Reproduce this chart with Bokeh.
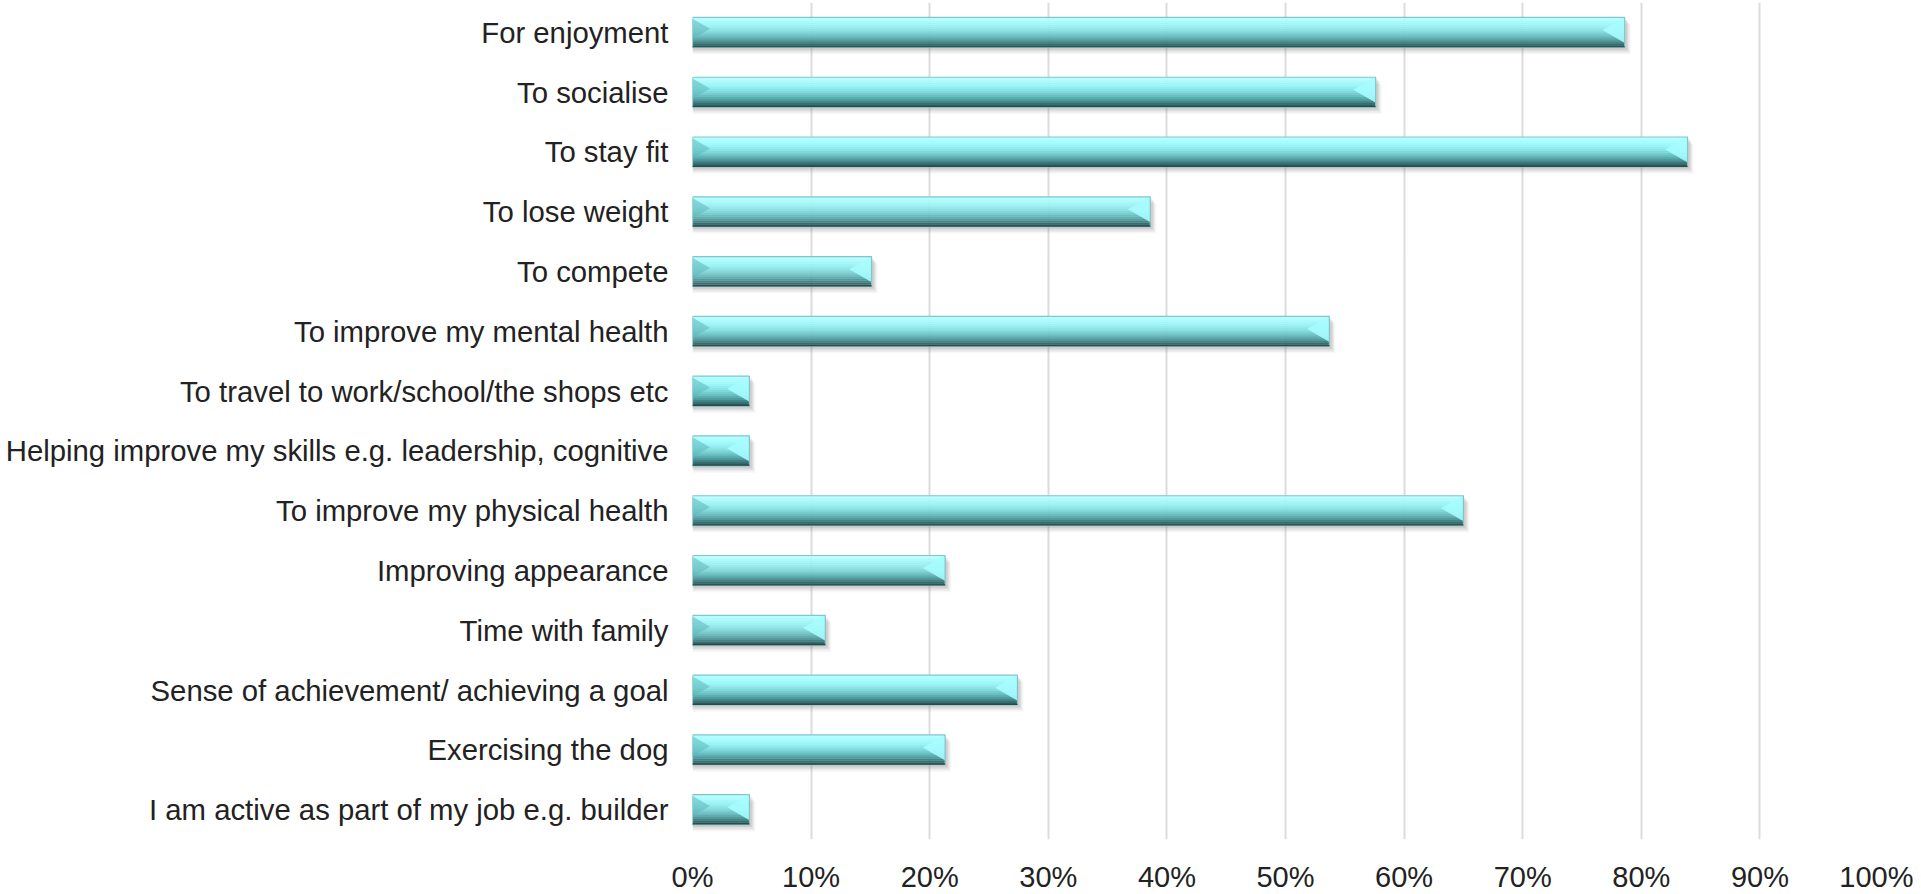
import math
from bokeh.plotting import figure
from bokeh.models import FactorRange, Range1d, NumeralTickFormatter, FixedTicker, ColumnDataSource
from bokeh.transform import dodge
from bokeh.embed import file_html
from bokeh.resources import INLINE

# ---- data ----
categories = [
    "For enjoyment",
    "To socialise",
    "To stay fit",
    "To lose weight",
    "To compete",
    "To improve my mental health",
    "To travel to work/school/the shops etc",
    "Helping improve my skills e.g. leadership, cognitive",
    "To improve my physical health",
    "Improving appearance",
    "Time with family",
    "Sense of achievement/ achieving a goal",
    "Exercising the dog",
    "I am active as part of my job e.g. builder",
]
percent = [78.6, 57.6, 83.9, 38.6, 15.1, 53.7, 4.8, 4.8, 65.0, 21.3, 11.2, 27.4, 21.3, 4.8]
x_ticks = [0, 10, 20, 30, 40, 50, 60, 70, 80, 90, 100]

FONT = "Liberation Sans"
TEXT = "#222222"

src = ColumnDataSource(data=dict(cat=categories, val=[v / 100 for v in percent]))

p = figure(
    y_range=FactorRange(*list(reversed(categories))),
    x_range=Range1d(0, 1),
    width=1913, height=894,
    frame_width=1186, frame_height=837,
    min_border_left=692, min_border_right=35, min_border_top=2, min_border_bottom=55,
    output_backend="svg", toolbar_location=None,
)
p.outline_line_color = None
p.background_fill_color = "white"
p.border_fill_color = "white"

# gridlines
p.xgrid.grid_line_color = "#dcdcdc"
p.xgrid.grid_line_width = 2
p.ygrid.grid_line_color = None

# axes
p.xaxis.ticker = FixedTicker(ticks=[t / 100 for t in x_ticks])
p.xaxis.formatter = NumeralTickFormatter(format="0%")
for ax in (p.xaxis[0], p.yaxis[0]):
    ax.axis_line_color = None
    ax.major_tick_line_color = None
    ax.minor_tick_line_color = None
    ax.major_tick_out = 0
    ax.major_tick_in = 0
    ax.major_label_text_font = FONT
    ax.major_label_text_color = TEXT
    ax.major_label_text_font_size = "29.3px"
p.xaxis.major_label_text_font_size = "29px"
p.xaxis.major_label_standoff = 21
p.yaxis.major_label_standoff = 24

H = 0.5  # bar thickness in category units

# soft drop shadow below / right of each bar
for k, (dy, a) in enumerate([(-0.115, 0.06), (-0.09, 0.09), (-0.065, 0.12), (-0.04, 0.14)]):
    p.hbar(y=dodge("cat", dy, range=p.y_range), left=0, right=dodge("val", 0.002 + 0.001 * (3 - k)),
           height=H, source=src, fill_color="#7a7a7a", fill_alpha=a, line_color=None)

# gradient body (top -> bottom)
stripe_colors = [
    "#b4feff", "#aefeff", "#a8fcfe", "#a2f9fb", "#9bf4f6", "#93edef", "#8ae4e6",
    "#80dadc", "#75cdcf", "#69bfc1", "#5cafb1", "#4f9c9e", "#428587", "#376e70",
    "#2f5d5e",
]
n = len(stripe_colors)
h = H / n
for k, c in enumerate(stripe_colors):
    off = H / 2 - (k + 0.5) * h
    p.hbar(y=dodge("cat", off, range=p.y_range), left=0, right="val", height=h * 1.08,
           source=src, fill_color=c, line_color=None)

# bevel accents: darker wedge at the left end, light wedge at the right end
p.scatter(x=dodge("val", -0.0062), y=dodge("cat", 0.04, range=p.y_range), source=src,
          marker="triangle", size=26, angle=math.pi / 2, fill_color="#a6fcfe", fill_alpha=0.9,
          line_color=None)
p.scatter(x=0.0045, y=dodge("cat", 0.06, range=p.y_range), source=src,
          marker="triangle", size=21, angle=-math.pi / 2, fill_color="#5fb6b8", fill_alpha=0.55,
          line_color=None)

# thin outline
p.hbar(y="cat", left=0, right="val", height=H, source=src, fill_color=None,
       line_color="#86c4c7", line_width=1.2)
# dark bottom edge
p.hbar(y=dodge("cat", -H / 2 + 0.01, range=p.y_range), left=0, right="val", height=0.02,
       source=src, fill_color="#274a4b", line_color=None)

open("out.html", "w").write(file_html(p, INLINE))
